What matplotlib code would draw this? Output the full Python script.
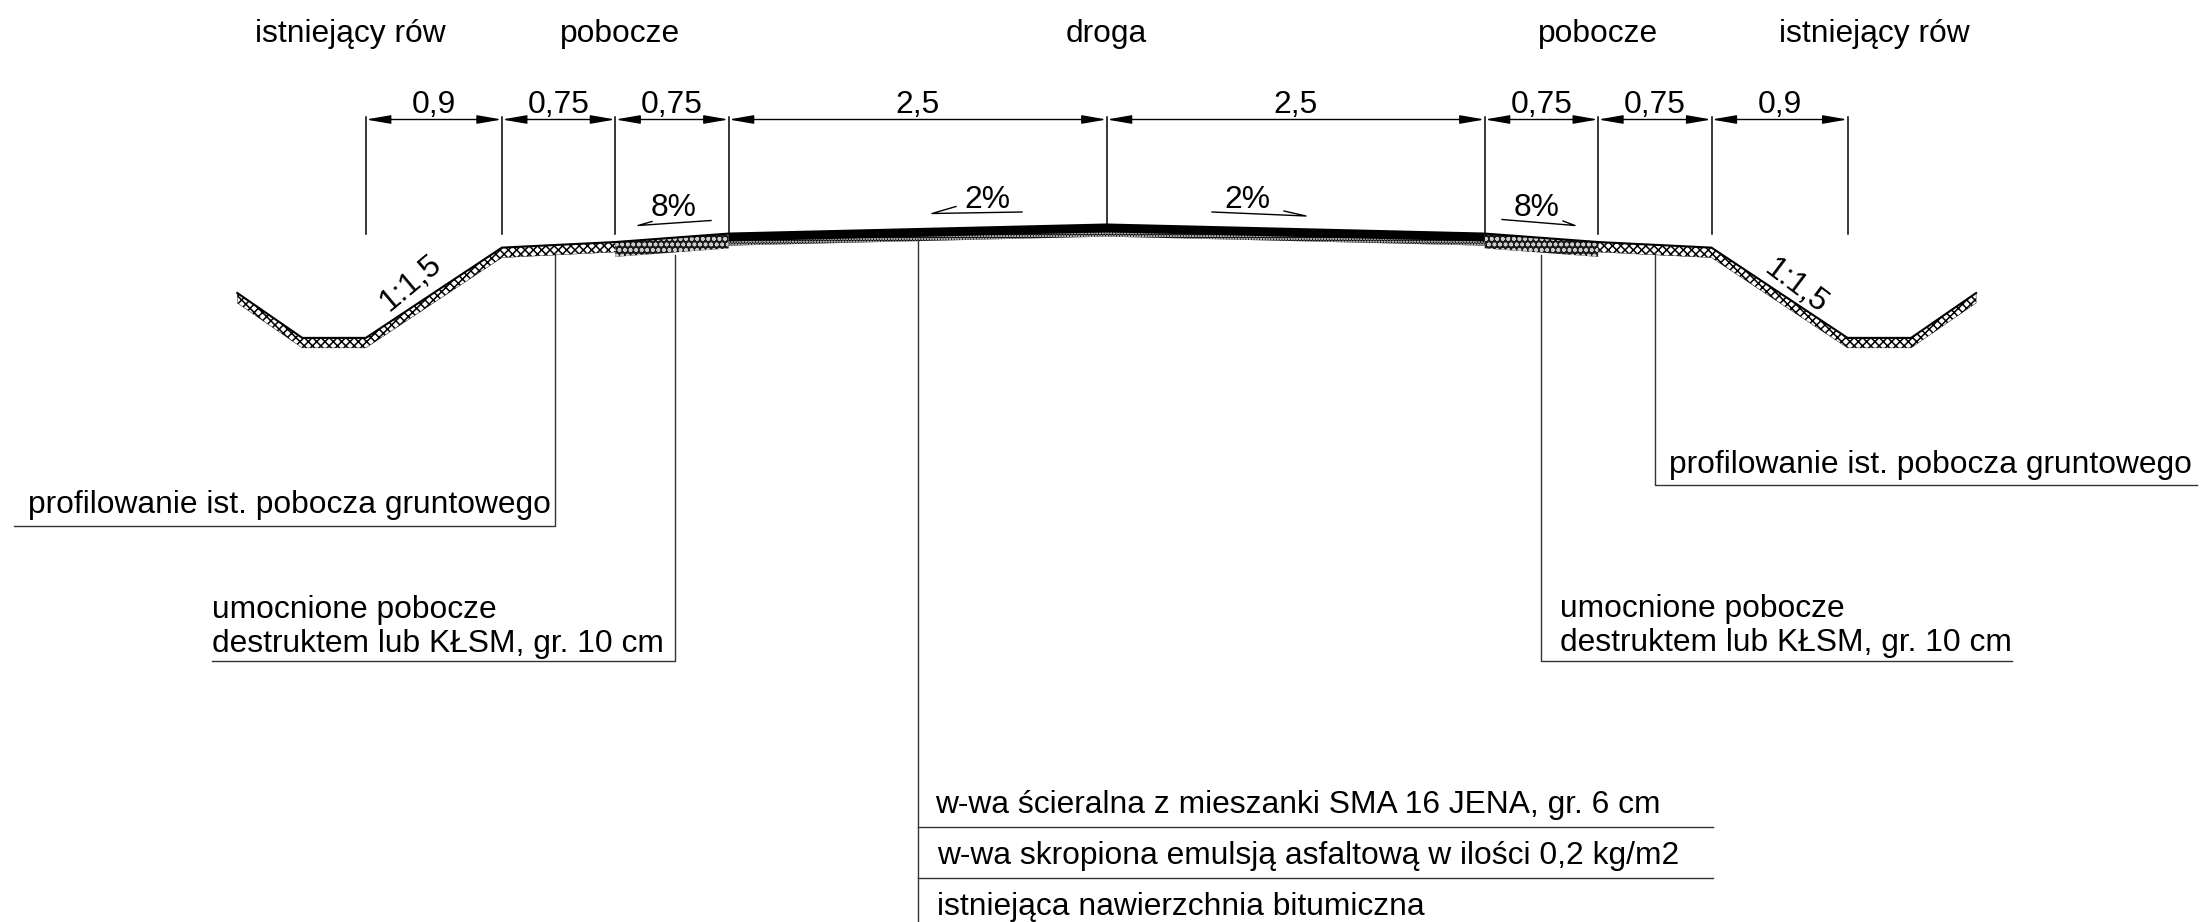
import numpy as np
import matplotlib
matplotlib.use("Agg")
import matplotlib.pyplot as plt
from matplotlib.transforms import Affine2D, blended_transform_factory

plt.rcParams['font.family'] = ['Liberation Sans', 'DejaVu Sans']
plt.rcParams['hatch.linewidth'] = 1.1

# cross section in metres, 0 = road axis
section_x = [-5.75, -5.32, -4.9, -4.0, -3.25, -2.5, 0, 2.5, 3.25, 4.0, 4.9, 5.32, 5.75]
section_y = [-0.453, -0.75, -0.75, -0.153, -0.116, -0.06, 0, -0.06, -0.116, -0.153, -0.75, -0.75, -0.453]

# dimension chain
dim_widths = [0.9, 0.75, 0.75, 2.5, 2.5, 0.75, 0.75, 0.9]
dim_labels = ['0,9', '0,75', '0,75', '2,5', '2,5', '0,75', '0,75', '0,9']
zone_names = ['istniejący rów', 'pobocze', 'droga', 'pobocze', 'istniejący rów']
zone_centres = [-5.0, -3.22, 0, 3.25, 5.08]
slope_labels = ['8%', '2%', '2%', '8%']

W, H = 2202, 922
SCALE = 151.2      # px per metre
X0, Y0 = 1106.7, 224.5

fig = plt.figure(figsize=(W / 100, H / 100), dpi=100)
ax = fig.add_axes([0, 0, 1, 1])
ax.set_xlim(-X0 / SCALE, (W - X0) / SCALE)
ax.set_ylim((Y0 - H) / SCALE, Y0 / SCALE)
ax.axis('off')

# pixel transform (y down) for labels and leaders
px = Affine2D().scale(1, -1).translate(0, H)
top = blended_transform_factory(ax.transData, px)

FS = 22.9


def band(x0, x1, d0, d1=None, **kw):
    """Layer under the surface between two stations, d = depth in metres."""
    d1 = d0 if d1 is None else d1
    xs = [x for x in section_x if x0 <= x <= x1]
    ys = [section_y[section_x.index(x)] for x in xs]
    low = np.array(ys) - np.interp(xs, [x0, x1], [d0, d1])
    ax.fill(xs + xs[::-1], ys + list(low[::-1]), **kw)


# soil layers
soil = dict(facecolor='white', edgecolor='black', hatch='xxxx', linewidth=0.3)
band(-5.75, -3.25, 0.066, **soil)
band(3.25, 5.75, 0.066, **soil)
# strengthened shoulders
dark = dict(facecolor='#1a1a1a', edgecolor='#cccccc', hatch='ooo', linewidth=0)
band(-3.25, -2.5, 0.098, 0.098, **dark)
band(2.5, 3.25, 0.098, 0.098, **dark)
# road layers
band(-2.5, 2.5, 0.08, facecolor='black', edgecolor='white', hatch='......', linewidth=0)
band(-2.5, 2.5, 0.052, facecolor='black', linewidth=0)
# surface line
ax.plot(section_x, section_y, color='black', lw=1.5, solid_joinstyle='miter')

# dimension chain
edges = np.cumsum([-sum(dim_widths) / 2] + dim_widths)
for i, e in enumerate(edges):
    y_end = 226 if e == 0 else 234
    ax.plot([e, e], [117, y_end], transform=top, color='black', lw=1.1)
for a, b, lab in zip(edges[:-1], edges[1:], dim_labels):
    ax.annotate('', xy=(a, 119.5), xytext=(b, 119.5), xycoords=top, textcoords=top,
                arrowprops=dict(arrowstyle='<|-|>,head_length=15,head_width=2.6', color='black',
                                lw=1.0, shrinkA=0, shrinkB=0, mutation_scale=1))
    ax.text((a + b) / 2, 113, lab, transform=top, ha='center', va='baseline', fontsize=FS)

for x, name in zip(zone_centres, zone_names):
    ax.text(x, 42, name, transform=top, ha='center', va='baseline', fontsize=FS)

# slope labels with small arrows
slope_marks = [
    (674, 216, [(711, 220.5), (638, 225.5), (652, 221.5)]),
    (987, 208, [(1022, 212), (932, 213.5), (956, 206.5)]),
    (1247, 208, [(1212, 212), (1306, 216), (1284, 211)]),
    (1537, 216, [(1502, 219.5), (1575, 225.5), (1563, 221)]),
]
for (tx, ty, pts), lab in zip(slope_marks, slope_labels):
    ax.text(tx, ty, lab, transform=px, ha='center', va='baseline', fontsize=FS)
    ax.plot(*zip(*pts), transform=px, color='black', lw=1.0)

ax.text(411, 283, '1:1,5', transform=px, ha='center', va='center', fontsize=FS,
        rotation=40, rotation_mode='anchor')
ax.text(1796, 287, '1:1,5', transform=px, ha='center', va='center', fontsize=FS,
        rotation=-37, rotation_mode='anchor')

# leaders
leaders = [
    ([555, 555, 14], [252, 526, 526]),
    ([675, 675, 212], [255, 661, 661]),
    ([1655, 1655, 2197], [252, 485, 485]),
    ([1541, 1541, 2012], [255, 661, 661]),
    ([918, 918], [240, 922]),
    ([918, 1713], [827, 827]),
    ([918, 1713], [877.5, 877.5]),
]
for xs, ys in leaders:
    ax.plot(xs, ys, transform=px, color='#333333', lw=1.0)

notes = [
    (28, 513, 'profilowanie ist. pobocza gruntowego'),
    (212, 618, 'umocnione pobocze'),
    (212, 652, 'destruktem lub KŁSM, gr. 10 cm'),
    (1669, 473, 'profilowanie ist. pobocza gruntowego'),
    (1560, 617, 'umocnione pobocze'),
    (1560, 651, 'destruktem lub KŁSM, gr. 10 cm'),
    (935, 813, 'w-wa ścieralna z mieszanki SMA 16 JENA, gr. 6 cm'),
    (937, 864, 'w-wa skropiona emulsją asfaltową w ilości 0,2 kg/m2'),
    (937, 915, 'istniejąca nawierzchnia bitumiczna'),
]
for x, y, t in notes:
    ax.text(x, y, t, transform=px, ha='left', va='baseline', fontsize=FS)

fig.savefig('out.png', dpi=100, facecolor='white')
